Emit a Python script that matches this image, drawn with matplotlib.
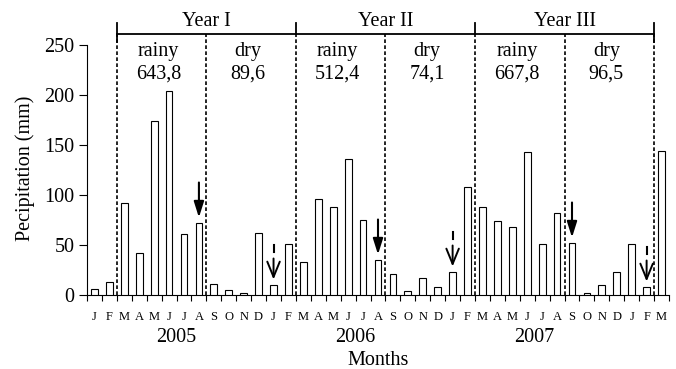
import numpy as np
import matplotlib
matplotlib.use('Agg')
import matplotlib.pyplot as plt

# Monthly precipitation, Jan 2005 - Mar 2008 (mm)
months = ['J', 'F', 'M', 'A', 'M', 'J', 'J', 'A', 'S', 'O', 'N', 'D',
          'J', 'F', 'M', 'A', 'M', 'J', 'J', 'A', 'S', 'O', 'N', 'D',
          'J', 'F', 'M', 'A', 'M', 'J', 'J', 'A', 'S', 'O', 'N', 'D',
          'J', 'F', 'M']
precip = [6, 13, 92, 42, 174, 204, 61, 72, 11, 5, 2, 62,
          10, 51, 33, 96, 88, 136, 75, 35, 21, 4, 17, 8,
          23, 108, 88, 74, 68, 143, 51, 82, 52, 2, 10, 23,
          51, 8, 144]

years = ['2005', '2006', '2007']
year_pos = [6, 18, 30]

# season limits (month boundaries) and labels
season_bounds = [2, 8, 14, 20, 26, 32, 38]
season_names = ['rainy', 'dry', 'rainy', 'dry', 'rainy', 'dry']
season_totals = ['643,8', '89,6', '512,4', '74,1', '667,8', '96,5']
study_years = ['Year I', 'Year II', 'Year III']

# arrows
solid_arrows = [7, 19, 32]
dashed_arrows = [12, 24, 37]

plt.rcParams['font.family'] = ['Liberation Serif', 'DejaVu Serif']
fs = 14.5

fig = plt.figure(figsize=(6.76, 3.69), dpi=100)
ax = fig.add_axes([87 / 676, 1 - 294.5 / 369, (669 - 87) / 676, (294.5 - 22.5) / 369])

x = np.arange(len(precip)) + 0.5
ax.bar(x, precip, width=0.45, color='white', edgecolor='black', linewidth=0.8, zorder=3)

ax.set_xlim(0, 39)
ax.set_ylim(0, 272)
ax.spines['top'].set_visible(False)
ax.spines['right'].set_visible(False)
ax.spines['left'].set_bounds(0, 250)
ax.set_yticks([0, 50, 100, 150, 200, 250])
ax.tick_params(axis='y', direction='out', length=6, width=0.8, labelsize=fs, pad=3)

# month ticks between bars, letters centered under bars
ax.set_xticks(np.arange(0, 40))
ax.set_xticklabels([])
ax.set_xticks(x, minor=True)
ax.set_xticklabels(months, minor=True, fontsize=9)
ax.tick_params(axis='x', which='major', direction='out', length=4, width=0.8)
ax.tick_params(axis='x', which='minor', length=0, pad=12)

for yr, p in zip(years, year_pos):
    ax.text(p, -43, yr, ha='center', va='center', fontsize=fs)
ax.set_xlabel('Months', fontsize=fs, labelpad=20)
ax.set_ylabel('Pecipitation (mm)', fontsize=fs)
ax.yaxis.set_label_coords(-0.09, 0.465)

# season separators
dash = (0, (2.2, 1.4))
for b in season_bounds:
    ax.plot([b, b], [0, 261], color='black', lw=1.2, linestyle=dash, zorder=2)

# year bracket
ax.plot([season_bounds[0], season_bounds[-1]], [261, 261], color='black', lw=1.3)
for i, b in enumerate(season_bounds[::2]):
    low = 253 if i in (0, 3) else 261
    ax.plot([b, b], [low, 272], color='black', lw=1.3, clip_on=False)
for i, name in enumerate(study_years):
    mid = (season_bounds[2 * i] + season_bounds[2 * i + 2]) / 2
    ax.text(mid, 263, name, ha='center', va='bottom', fontsize=fs)

for i in range(6):
    mid = (season_bounds[i] + season_bounds[i + 1]) / 2 - 0.2
    ax.text(mid, 243, season_names[i], ha='center', va='center', fontsize=fs)
    ax.text(mid, 220, season_totals[i], ha='center', va='center', fontsize=fs)

# solid arrows
for m in solid_arrows:
    ax.annotate('', xy=(m + 0.5, precip[m] + 5), xytext=(m + 0.5, precip[m] + 40),
                arrowprops=dict(arrowstyle='-|>,head_length=0.95,head_width=0.3',
                                mutation_scale=10, color='black', lw=1.5,
                                shrinkA=0, shrinkB=0))

# dashed open arrows
for m in dashed_arrows:
    ax.plot([m + 0.5, m + 0.5], [precip[m] + 33, precip[m] + 40], color='black', lw=1.5)
    ax.annotate('', xy=(m + 0.5, precip[m] + 5), xytext=(m + 0.5, precip[m] + 26),
                arrowprops=dict(arrowstyle='->,head_length=1.1,head_width=0.45',
                                mutation_scale=10, color='black', lw=1.4,
                                shrinkA=0, shrinkB=0))

fig.savefig('out.png', dpi=100)
